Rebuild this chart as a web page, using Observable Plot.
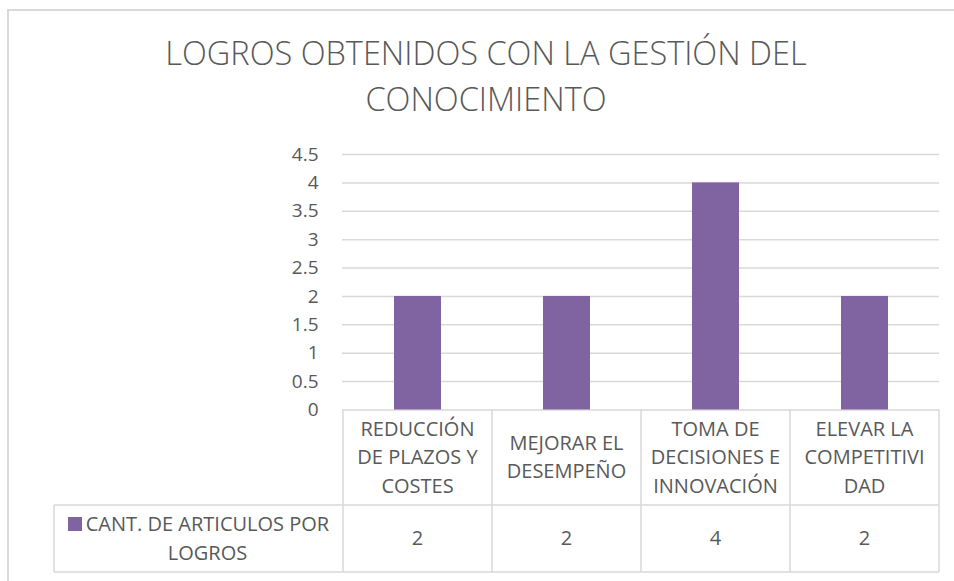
<!DOCTYPE html>
<html>
<head>
<meta charset="utf-8">
<script src="https://cdn.jsdelivr.net/npm/d3@7"></script>
<script src="https://cdn.jsdelivr.net/npm/@observablehq/plot@0.6"></script>
<style>
html, body { margin: 0; padding: 0; background: #fff; }
#wrap { position: relative; width: 954px; height: 581px; overflow: hidden; font-family: "Open Sans", sans-serif; color: #595959; }
#frame { position: absolute; left: 7px; top: 9px; width: 970px; height: 620px; border: 2px solid #d9d9d9; box-sizing: border-box; }
#title { position: absolute; left: 8px; width: 956px; top: 30px; text-align: center; font-size: 32.5px; line-height: 45.5px; font-weight: 300; }
#chart { position: absolute; left: 0; top: 140px; }
#table { position: absolute; left: 0; top: 0; }
.cell { position: absolute; box-sizing: border-box; display: flex; align-items: center; justify-content: center; text-align: center; font-size: 20px; line-height: 28.5px; white-space: nowrap; }
.key { width: 14px; height: 14px; background: #8064a2; margin-top: 7px; margin-right: 4px; flex: none; }
</style>
</head>
<body>
<div id="wrap">
  <div id="frame"></div>
  <div id="title"></div>
  <div id="chart"></div>
</div>
<script>
const titleLines = ["LOGROS OBTENIDOS CON LA GESTIÓN DEL", "CONOCIMIENTO"];
const categories = ["REDUCCIÓN DE PLAZOS Y COSTES", "MEJORAR EL DESEMPEÑO", "TOMA DE DECISIONES E INNOVACIÓN", "ELEVAR LA COMPETITIVIDAD"];
const categoryLabelLines = [["REDUCCIÓN", "DE PLAZOS Y", "COSTES"], ["MEJORAR EL", "DESEMPEÑO"], ["TOMA DE", "DECISIONES E", "INNOVACIÓN"], ["ELEVAR LA", "COMPETITIVI", "DAD"]];
const values = [2, 2, 4, 2];
const seriesNameLines = ["CANT. DE ARTICULOS POR", "LOGROS"];
const yTicks = [0, 0.5, 1, 1.5, 2, 2.5, 3, 3.5, 4, 4.5];

const data = categories.map((c, i) => ({category: c, value: values[i]}));

document.getElementById("title").innerHTML = titleLines.join("<br>");

const chartTop = 140;
const chart = Plot.plot({
  width: 954,
  height: 441,
  marginTop: 14,
  marginBottom: 171.5,
  marginLeft: 342,
  marginRight: 15,
  style: {fontFamily: "Open Sans, sans-serif", fontSize: "19px", color: "#595959", background: "transparent", overflow: "visible"},
  x: {domain: categories, paddingInner: 0.685, paddingOuter: 0.3425, axis: null},
  y: {domain: [0, 4.5], axis: null},
  marks: [
    Plot.gridY(yTicks, {stroke: "#d9d9d9", strokeOpacity: 1, strokeWidth: 1.5}),
    Plot.axisY({ticks: yTicks, tickSize: 0, tickPadding: 24, tickFormat: d => String(d), fill: "#595959", fontSize: 19, label: null}),
    Plot.barY(data, {x: "category", y: "value", fill: "#8064a2"})
  ]
});
document.getElementById("chart").appendChild(chart);

// Data table below the plot, aligned on the x band scale
const xs = chart.scale("x");
const ys = chart.scale("y");
const step = xs.step;
const colLeft = categories.map(c => xs.apply(c) - (step - xs.bandwidth) / 2);
const colRight = colLeft[colLeft.length - 1] + step;
const headTop = chartTop + ys.apply(0);
const headBottom = 505;
const rowBottom = 572;
const labelLeft = 54;

const wrap = document.getElementById("wrap");
const svg = d3.select(wrap).append("svg")
  .attr("id", "table").attr("width", 954).attr("height", 581)
  .style("position", "absolute").style("left", 0).style("top", 0);
const g = svg.append("g").attr("stroke", "#d9d9d9").attr("stroke-width", 1.5);
const bounds = colLeft.concat([colRight]);
bounds.forEach(x => g.append("line").attr("x1", x).attr("x2", x).attr("y1", headTop).attr("y2", rowBottom));
g.append("line").attr("x1", labelLeft).attr("x2", labelLeft).attr("y1", headBottom).attr("y2", rowBottom);
g.append("line").attr("x1", labelLeft).attr("x2", colRight).attr("y1", headBottom).attr("y2", headBottom);
g.append("line").attr("x1", labelLeft).attr("x2", colRight).attr("y1", rowBottom).attr("y2", rowBottom);

function cell(x, y, w, h, html) {
  const d = document.createElement("div");
  d.className = "cell";
  d.style.left = x + "px"; d.style.top = y + "px";
  d.style.width = w + "px"; d.style.height = h + "px";
  d.innerHTML = html;
  wrap.appendChild(d);
  return d;
}
categories.forEach((c, i) => {
  cell(colLeft[i], headTop, step, headBottom - headTop, "<div>" + categoryLabelLines[i].join("<br>") + "</div>");
  cell(colLeft[i], headBottom, step, rowBottom - headBottom, "<div>" + values[i] + "</div>");
});
cell(labelLeft, headBottom, colLeft[0] - labelLeft, rowBottom - headBottom,
  '<div style="display:flex;align-items:flex-start"><div class="key"></div><div>' + seriesNameLines.join("<br>") + '</div></div>');
</script>
</body>
</html>
